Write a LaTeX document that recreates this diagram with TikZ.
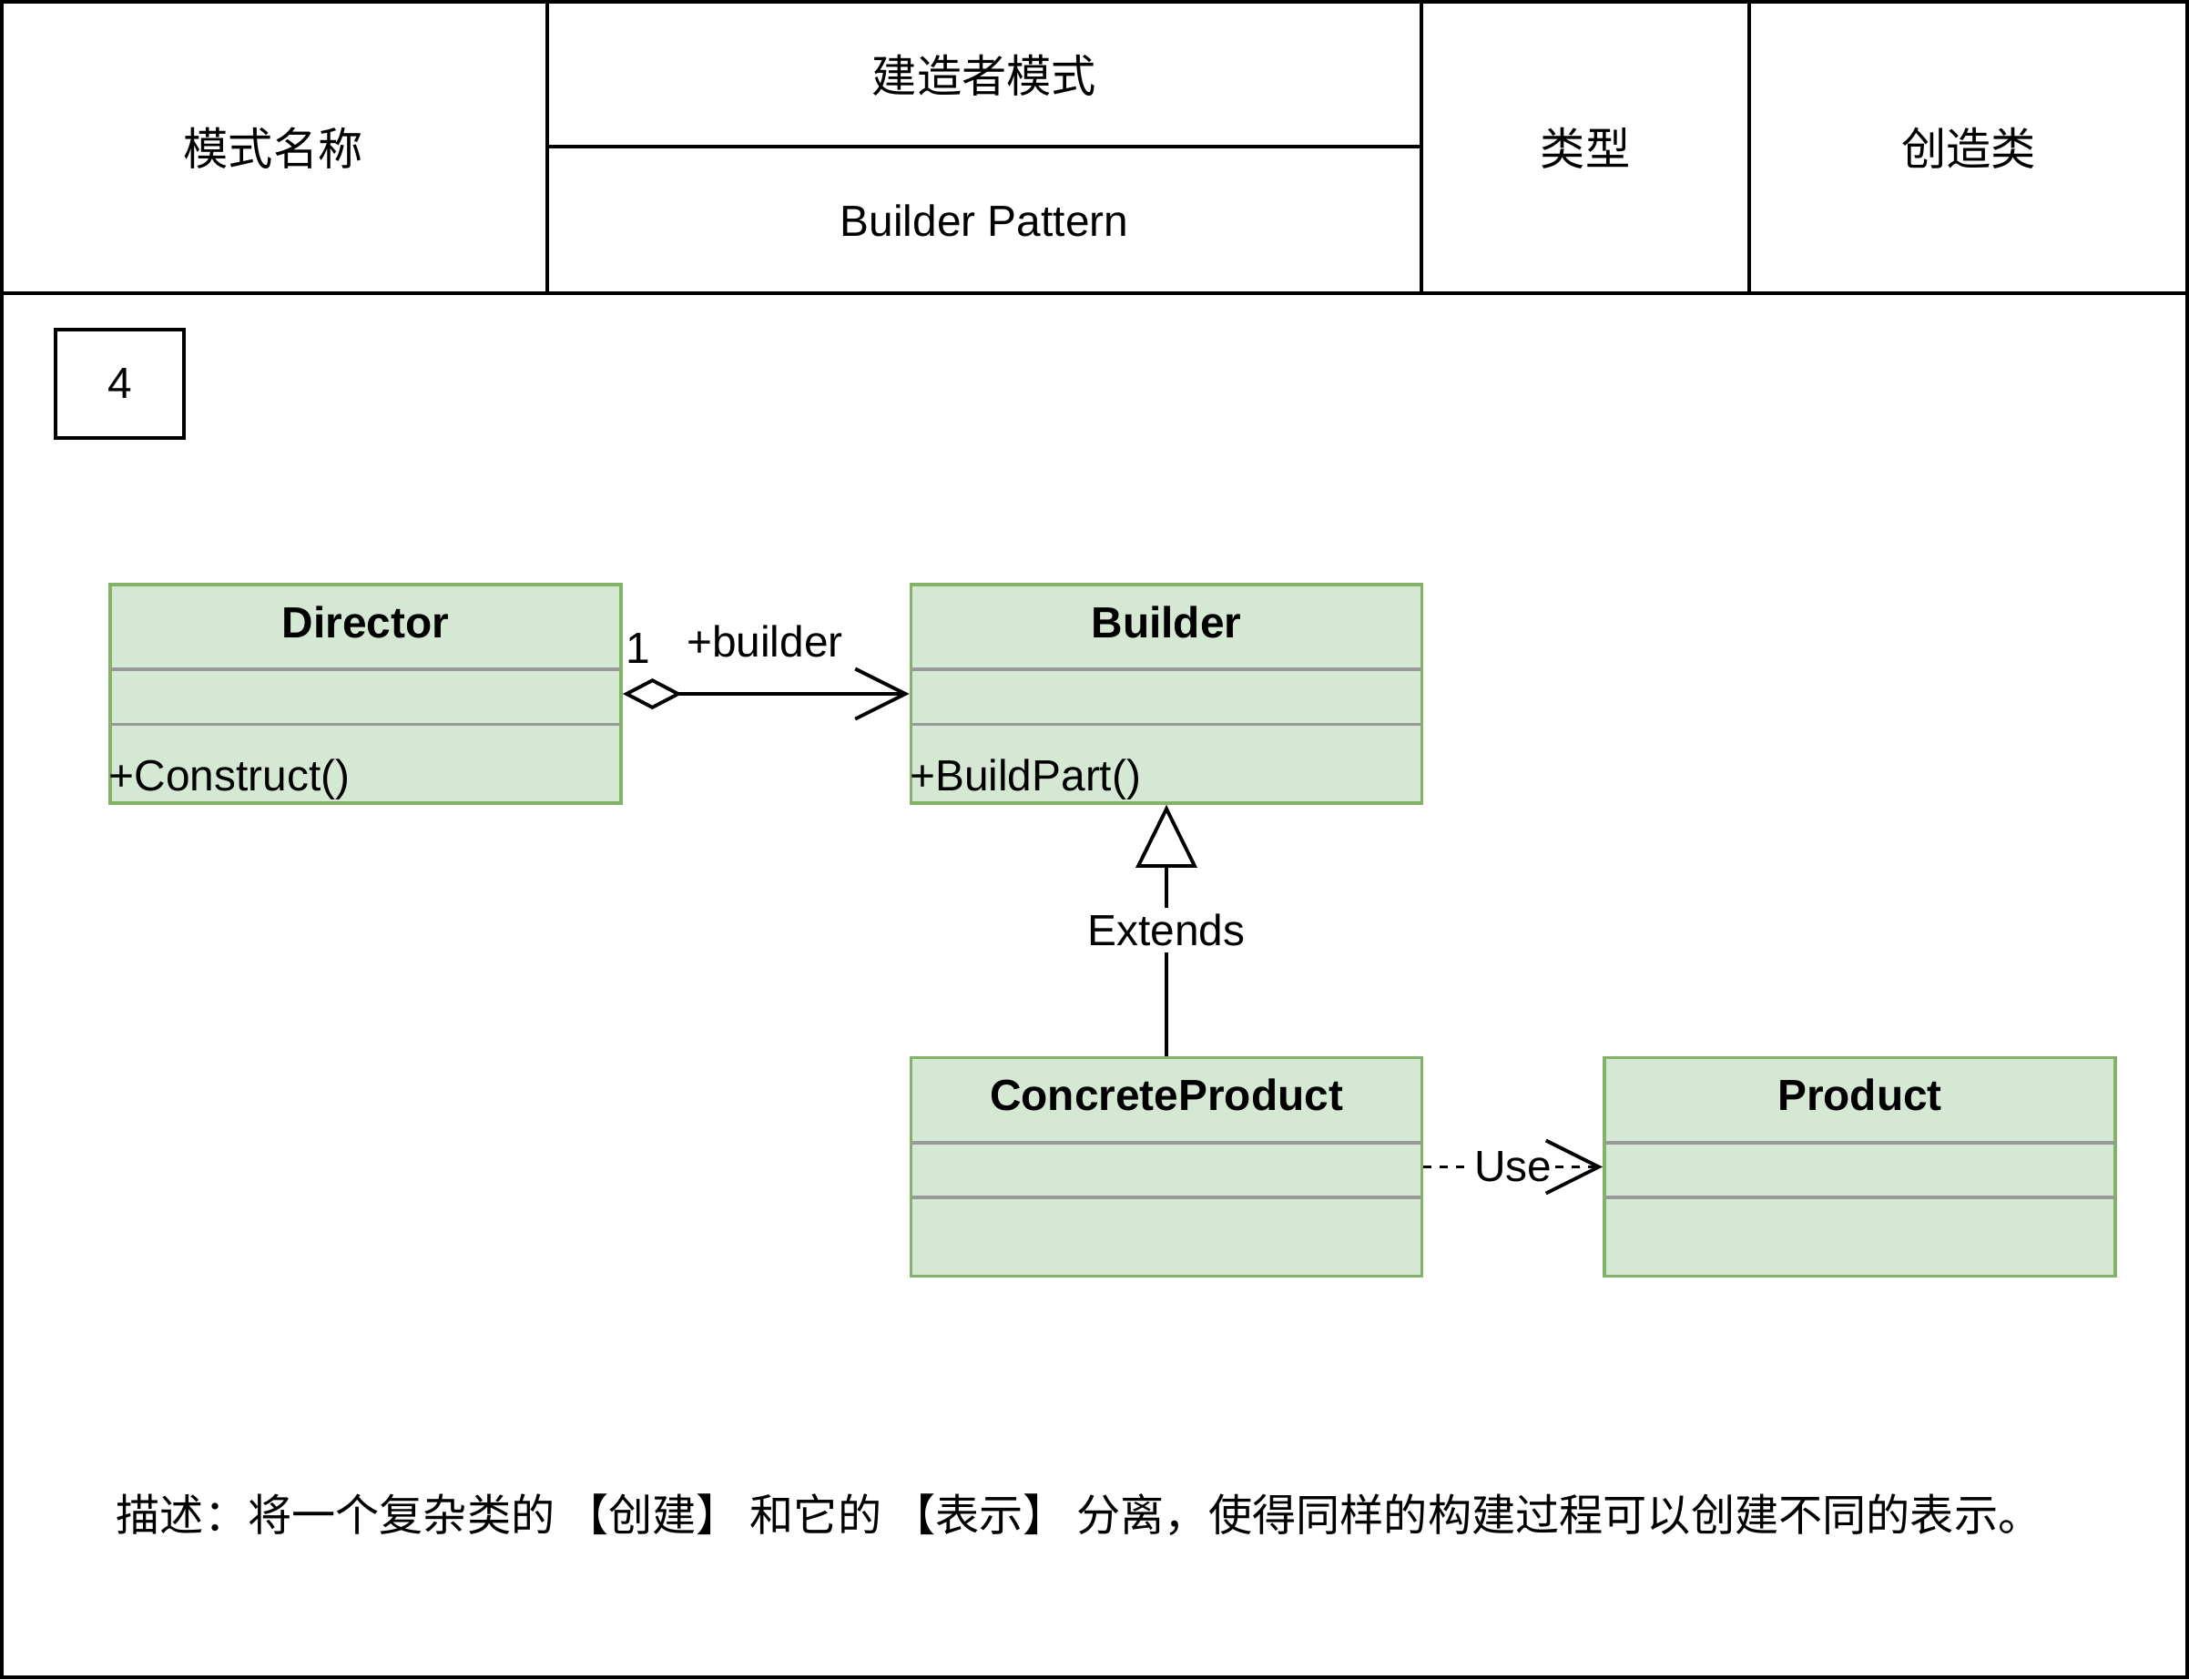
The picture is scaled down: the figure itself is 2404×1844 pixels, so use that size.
\documentclass[tikz,border=0pt]{standalone}
\usepackage{fontspec}
\setmainfont{Liberation Sans}
\newfontfamily\cjk{Noto Sans CJK SC}
\usetikzlibrary{arrows.meta}
\definecolor{umlfill}{HTML}{D5E8D4}
\definecolor{umlstroke}{HTML}{82B366}
\definecolor{sepgray}{HTML}{999999}
\newcommand\UMLbox[5]{%
  \node[umlclass] (#1) at (#2,#3) {};
  \node[umltitle] (#1-t) at ([yshift=-0.43cm]#1.north) {#4};
  \draw[umlsep] ([shift={(0.03cm,-0.95cm)}]#1.north west) -- ([shift={(-0.03cm,-0.95cm)}]#1.north east);
  \draw[umlsep] ([shift={(0.03cm,-1.55cm)}]#1.north west) -- ([shift={(-0.03cm,-1.55cm)}]#1.north east);
  \node[anchor=west] (#1-m) at ([yshift=-2.16cm]#1.north west) {#5};
}
\begin{document}
\begin{tikzpicture}[x=0.01cm,y=-0.01cm,
  every node/.style={font=\fontsize{13.6pt}{16pt}\selectfont, inner sep=0pt},
  cjktext/.style={font=\cjk\fontsize{14pt}{17pt}\selectfont},
  frame/.style={draw=black, line width=1.1pt},
  umlclass/.style={draw=umlstroke, fill=umlfill, line width=1pt, minimum width=5.61cm, minimum height=2.40cm},
  umltitle/.style={font=\fontsize{13.6pt}{16pt}\selectfont\bfseries},
  umlsep/.style={draw=sepgray, line width=1pt},
  conn/.style={draw=black, line width=1.1pt},
  lbl/.style={fill=white, inner sep=2pt}
]
\useasboundingbox (0,0) rectangle (2404,1844);
% outer frame and header
\draw[frame] (2,2) rectangle (2402,1842);
\draw[frame] (0,322) -- (2404,322);
\draw[frame] (601,0) -- (601,322);
\draw[frame] (1561,0) -- (1561,322);
\draw[frame] (1921,0) -- (1921,322);
\draw[frame] (601,161) -- (1561,161);
\node[cjktext] (h1) at (300,163) {模式名称};
\node[cjktext] (h2) at (1081,83) {建造者模式};
\node (h3) at (1081,242) {Builder Pattern};
\node[cjktext] (h4) at (1741,163) {类型};
\node[cjktext] (h5) at (2162,163) {创造类};
% number box
\node[frame, minimum width=1.41cm, minimum height=1.19cm] (num) at (131.5,421.5) {4};
% classes
\UMLbox{director}{401.5}{762}{Director}{+Construct()}
\UMLbox{builder}{1281}{762}{Builder}{+BuildPart()}
\UMLbox{concrete}{1281}{1281.5}{ConcreteProduct}{}
\UMLbox{product}{2042.5}{1281.5}{Product}{}
% connectors
\draw[conn, {Diamond[fill=white,length=0.65cm,width=0.34cm]}-{Straight Barb[length=0.55cm,width=0.55cm]}] (director.east) -- (builder.west);
\node (mult) at (701,712) {1};
\node (role) at (840,704) {+builder};
\draw[conn, -{Triangle[fill=white,length=0.69cm,width=0.67cm]}] (concrete.north) -- node[lbl] (ext) {Extends} (builder.south);
\draw[conn, dash pattern=on 0.09cm off 0.09cm, -{Straight Barb[length=0.58cm,width=0.58cm]}] (concrete.east) -- node[fill=white, inner sep=1pt] (use) {Use} (product.west);
% description
\node[cjktext, font=\cjk\fontsize{13.7pt}{17pt}\selectfont, anchor=west] (desc) at (127,1664) {描述：将一个复杂类的 【创建】 和它的 【表示】 分离，使得同样的构建过程可以创建不同的表示。};
\end{tikzpicture}
\end{document}
